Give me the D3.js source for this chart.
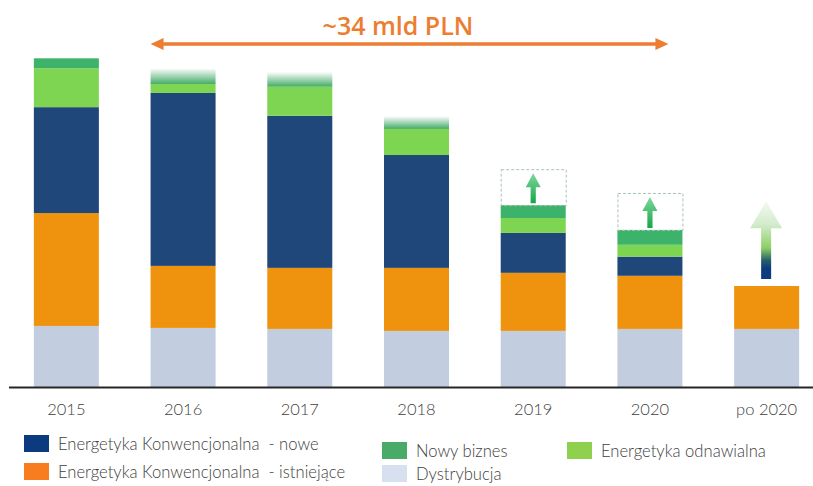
<!DOCTYPE html>
<html>
<head>
<meta charset="utf-8">
<script src="https://cdn.jsdelivr.net/npm/d3@7"></script>
<style>
  html, body { margin: 0; padding: 0; background: #fff; }
  svg { display: block; font-family: Lato, "Open Sans", sans-serif; }
</style>
</head>
<body>
<div id="chart"></div>
<script>
const width = 813;
const height = 486;

// data (arbitrary units, top of 2015 bar ~ 100)
const years = ["2015", "2016", "2017", "2018", "2019", "2020", "po 2020"];
const dystrybucja = [18.5, 17.9, 17.6, 17.0, 17.0, 17.6, 17.6];
const konwIstniejace = [34.2, 18.8, 18.5, 19.1, 17.6, 16.1, 13.0];
const konwNowe = [32.1, 52.4, 46.1, 34.2, 12.1, 5.8, 0];
const odnawialna = [11.8, 2.7, 8.8, 7.9, 4.5, 3.6, 0];
const nowyBiznes = [3.0, 4.8, 4.5, 3.9, 3.9, 4.5, 0];
// years where "Nowy biznes" is only an estimate (drawn faded)
const nowyBiznesEstimate = ["2016", "2017", "2018"];
// possible extra upside (dashed boxes with arrows)
const upside = [0, 0, 0, 0, 10.9, 11.2, 0];
// growth arrow after 2020: gap above bar and arrow length
const growthGap = [0, 0, 0, 0, 0, 0, 2.1];
const growthLen = [0, 0, 0, 0, 0, 0, 23.6];

const seriesKeys = ["dys", "ist", "nowe", "odn", "biz"];
const seriesNames = {
  nowe: "Energetyka Konwencjonalna  - nowe",
  ist: "Energetyka Konwencjonalna  - istniejące",
  biz: "Nowy biznes",
  odn: "Energetyka odnawialna",
  dys: "Dystrybucja"
};
const barColor = { dys: "#c3cde0", ist: "#ef930f", nowe: "#1f4779", odn: "#7ed552", biz: "#3db26a" };
const legendColor = { dys: "#d7e0ef", ist: "#f77d1f", nowe: "#0b3a7e", odn: "#8fd14f", biz: "#4aab68" };

const rows = years.map((y, i) => ({
  year: y,
  dys: dystrybucja[i],
  ist: konwIstniejace[i],
  nowe: konwNowe[i],
  odn: odnawialna[i],
  biz: nowyBiznes[i],
  upside: upside[i],
  gap: growthGap[i],
  len: growthLen[i]
}));

const svg = d3.select("#chart").append("svg")
  .attr("width", width)
  .attr("height", height);

const defs = svg.append("defs");

const fade = defs.append("linearGradient").attr("id", "fade")
  .attr("x1", 0).attr("y1", 0).attr("x2", 0).attr("y2", 1);
fade.append("stop").attr("offset", "0%").attr("stop-color", "#ffffff");
fade.append("stop").attr("offset", "100%").attr("stop-color", "#45ab68");

const smallArrowGrad = defs.append("linearGradient").attr("id", "smallArrow")
  .attr("x1", 0).attr("y1", 0).attr("x2", 0).attr("y2", 1);
smallArrowGrad.append("stop").attr("offset", "0%").attr("stop-color", "#7fd79c");
smallArrowGrad.append("stop").attr("offset", "100%").attr("stop-color", "#16a64a");

const bigArrowGrad = defs.append("linearGradient").attr("id", "bigArrow")
  .attr("x1", 0).attr("y1", 0).attr("x2", 0).attr("y2", 1);
bigArrowGrad.append("stop").attr("offset", "0%").attr("stop-color", "#f3f9f2");
bigArrowGrad.append("stop").attr("offset", "30%").attr("stop-color", "#d3ebcc");
bigArrowGrad.append("stop").attr("offset", "60%").attr("stop-color", "#8ccf62");
bigArrowGrad.append("stop").attr("offset", "76%").attr("stop-color", "#27606a");
bigArrowGrad.append("stop").attr("offset", "86%").attr("stop-color", "#0c3c7e");
bigArrowGrad.append("stop").attr("offset", "100%").attr("stop-color", "#0c3c7e");

const x = d3.scaleBand()
  .domain(years)
  .range([8, 825])
  .paddingInner(0.443)
  .paddingOuter(0.2215);

const y = d3.scaleLinear()
  .domain([0, 100])
  .range([387, 57]);

const stacked = d3.stack().keys(seriesKeys)(rows);

// bars
svg.append("g").selectAll("g")
  .data(stacked)
  .join("g")
  .selectAll("rect")
  .data(s => s.map(d => ({ key: s.key, d })))
  .join("rect")
  .filter(p => p.d[1] - p.d[0] > 0)
  .attr("x", p => x(p.d.data.year))
  .attr("y", p => y(p.d[1]))
  .attr("width", x.bandwidth())
  .attr("height", p => y(p.d[0]) - y(p.d[1]))
  .attr("fill", p => (p.key === "biz" && nowyBiznesEstimate.includes(p.d.data.year)) ? "url(#fade)" : barColor[p.key]);

// dashed upside boxes with small arrows
const tops = rows.map(r => seriesKeys.reduce((s, k) => s + r[k], 0));
const up = svg.append("g").selectAll("g")
  .data(rows.map((r, i) => ({ r, top: tops[i] })).filter(o => o.r.upside > 0))
  .join("g");

up.append("rect")
  .attr("x", o => x(o.r.year) + 0.5)
  .attr("y", o => y(o.top + o.r.upside) + 0.5)
  .attr("width", x.bandwidth())
  .attr("height", o => y(o.top) - y(o.top + o.r.upside))
  .attr("fill", "none")
  .attr("stroke", "#a8c2b6")
  .attr("stroke-width", 1)
  .attr("stroke-dasharray", "3,2");

up.append("path")
  .attr("fill", "url(#smallArrow)")
  .attr("d", o => {
    const cx = x(o.r.year) + x.bandwidth() / 2;
    const y0 = y(o.top + o.r.upside) + 4;
    const y1 = y(o.top) - 2;
    const hb = y0 + 14;
    return `M${cx},${y0} L${cx + 7.5},${hb} L${cx + 2.6},${hb} L${cx + 2.6},${y1} L${cx - 2.6},${y1} L${cx - 2.6},${hb} L${cx - 7.5},${hb} Z`;
  });

// growth arrow after 2020
svg.append("g").selectAll("path")
  .data(rows.map((r, i) => ({ r, top: tops[i] })).filter(o => o.r.len > 0))
  .join("path")
  .attr("fill", "url(#bigArrow)")
  .attr("d", o => {
    const cx = x(o.r.year) + x.bandwidth() / 2 - 0.5;
    const yb = y(o.top + o.r.gap);
    const yt = y(o.top + o.r.gap + o.r.len);
    const hb = yt + 27;
    return `M${cx},${yt} L${cx + 16},${hb} L${cx + 5},${hb} L${cx + 5},${yb} L${cx - 5},${yb} L${cx - 5},${hb} L${cx - 16},${hb} Z`;
  });

// axis
const xAxis = svg.append("g")
  .attr("transform", `translate(0,${y(0)})`)
  .call(d3.axisBottom(x).tickSize(0).tickPadding(16));
xAxis.select(".domain")
  .attr("d", "M9,0.5H813")
  .attr("stroke", "#262626")
  .attr("stroke-width", 2);
xAxis.selectAll("text")
  .attr("font-family", "Lato, sans-serif")
  .attr("font-weight", 300)
  .attr("font-size", 16.5)
  .attr("fill", "#404040");

// title with double arrow
const ax0 = x(years[1]);
const ax1 = x(years[5]) + x.bandwidth() - 14;
svg.append("line")
  .attr("x1", ax0 + 10).attr("x2", ax1 - 10)
  .attr("y1", 44).attr("y2", 44)
  .attr("stroke", "#ed7d31")
  .attr("stroke-width", 3.5);
svg.append("path")
  .attr("fill", "#ed7d31")
  .attr("d", `M${ax0},44 L${ax0 + 13},38 L${ax0 + 13},50 Z M${ax1},44 L${ax1 - 13},38 L${ax1 - 13},50 Z`);
svg.append("text")
  .attr("x", 398)
  .attr("y", 35)
  .attr("text-anchor", "middle")
  .attr("font-family", "Open Sans, sans-serif")
  .attr("font-weight", 600)
  .attr("font-size", 25)
  .attr("fill", "#ed7d31")
  .text("~34 mld PLN");

// legend
const legendItems = [
  { key: "nowe", x: 24, y: 435 },
  { key: "ist", x: 24, y: 463 },
  { key: "biz", x: 382, y: 442 },
  { key: "dys", x: 382, y: 465 },
  { key: "odn", x: 567, y: 442 }
];
const legend = svg.append("g").selectAll("g")
  .data(legendItems)
  .join("g")
  .attr("transform", d => `translate(${d.x},${d.y})`);
legend.append("rect")
  .attr("width", 25)
  .attr("height", 17)
  .attr("fill", d => legendColor[d.key]);
legend.append("text")
  .attr("x", 34)
  .attr("y", 9)
  .attr("dy", "0.35em")
  .attr("font-size", 16.6)
  .attr("font-weight", 300)
  .attr("fill", "#404040")
  .style("white-space", "pre")
  .text(d => seriesNames[d.key]);
</script>
</body>
</html>
